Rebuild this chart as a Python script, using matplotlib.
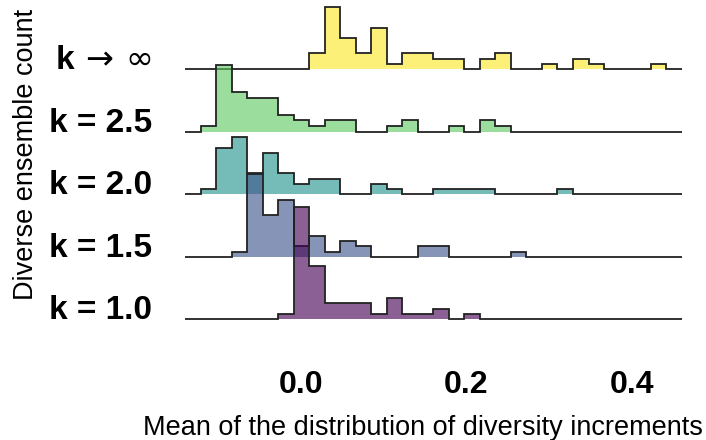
import numpy as np
import matplotlib
matplotlib.use("Agg")
import matplotlib.pyplot as plt

plt.rcParams['font.family'] = ['Liberation Sans', 'DejaVu Sans']
plt.rcParams['mathtext.fontset'] = 'custom'
plt.rcParams['mathtext.rm'] = 'DejaVu Sans'
plt.rcParams['mathtext.bf'] = 'Liberation Sans:bold'

"""shared histogram bins"""
bin_start = -0.14
bin_width = 0.01875
n_bins = 32

"""counts per bin, read off the picture (bottom row first)"""
row_labels = ['k = 1.0', 'k = 1.5', 'k = 2.0', 'k = 2.5',
              r'$\mathbf{k}\,\rightarrow\,\infty$']
counts_k10 = [0, 0, 0, 0, 0, 0, 1, 21, 10, 3, 3, 3, 1, 4, 1, 1,
              2, 0, 1, 0, 0, 0, 0, 0, 0, 0, 0, 0, 0, 0, 0, 0]
counts_k15 = [0, 0, 0, 1, 16, 8, 11, 2, 4, 1, 3, 2, 0, 0, 0, 2,
              2, 0, 0, 0, 0, 1, 0, 0, 0, 0, 0, 0, 0, 0, 0, 0]
counts_k20 = [0, 1, 9, 11, 4, 8, 4, 2, 3, 3, 0, 0, 2, 1, 0, 0,
              1, 1, 1, 1, 0, 0, 0, 0, 1, 0, 0, 0, 0, 0, 0, 0]
counts_k25 = [0, 1, 12, 7, 6, 6, 3, 2, 1, 2, 2, 0, 0, 1, 2, 0,
              0, 1, 0, 2, 1, 0, 0, 0, 0, 0, 0, 0, 0, 0, 0, 0]
counts_kinf = [0, 0, 0, 0, 0, 0, 0, 0, 3, 12, 6, 3, 8, 1, 3, 3,
               2, 2, 0, 2, 3, 0, 0, 1, 0, 2, 1, 0, 0, 0, 1, 0]
all_counts = [counts_k10, counts_k15, counts_k20, counts_k25, counts_kinf]

xticks = [0.0, 0.2, 0.4]
xtick_labels = ['0.0', '0.2', '0.4']

row_gap = 12.2
colors = [plt.cm.viridis(v) for v in [0.0, 0.25, 0.5, 0.75, 1.0]]

edges = bin_start + bin_width * np.arange(n_bins + 1)

fig = plt.figure(figsize=(7.06, 4.40), dpi=100)
ax = fig.add_axes([0.2388, 0.1818, 0.7501, 0.8182])

"""draw top row first so lower rows sit on top"""
for i in reversed(range(len(all_counts))):
    c = np.array(all_counts[i], dtype=float)
    dens = c / (c.sum() * bin_width)
    off = i * row_gap
    z = 10 - 2 * i
    ax.stairs(dens + off, edges, baseline=off, fill=True,
              color=colors[i], alpha=0.62, lw=0, zorder=z)
    ax.stairs(dens + off, edges, baseline=off, fill=False,
              color='#222222', lw=1.3, zorder=z + 1)
    ax.text(-0.180, off, row_labels[i], ha='right', va='baseline',
            fontsize=24, fontweight='bold', clip_on=False)

ax.set_xlim(-0.16, 0.48)
ax.set_ylim(-7.93, 62.24)
ax.set_xticks(xticks)
ax.set_xticklabels(xtick_labels, fontsize=23, fontweight='bold')
ax.tick_params(axis='x', length=0, pad=7)
ax.set_yticks([])
for s in ax.spines.values():
    s.set_visible(False)

fig.text(423 / 706, 1 - 435 / 440,
         'Mean of the distribution of diversity increments',
         ha='center', va='baseline', fontsize=19.5)
fig.text(33 / 706, 1 - 154.5 / 440, 'Diverse ensemble count',
         rotation=90, rotation_mode='anchor', ha='center', va='baseline',
         fontsize=19.5)

fig.savefig('out.png', dpi=100)
